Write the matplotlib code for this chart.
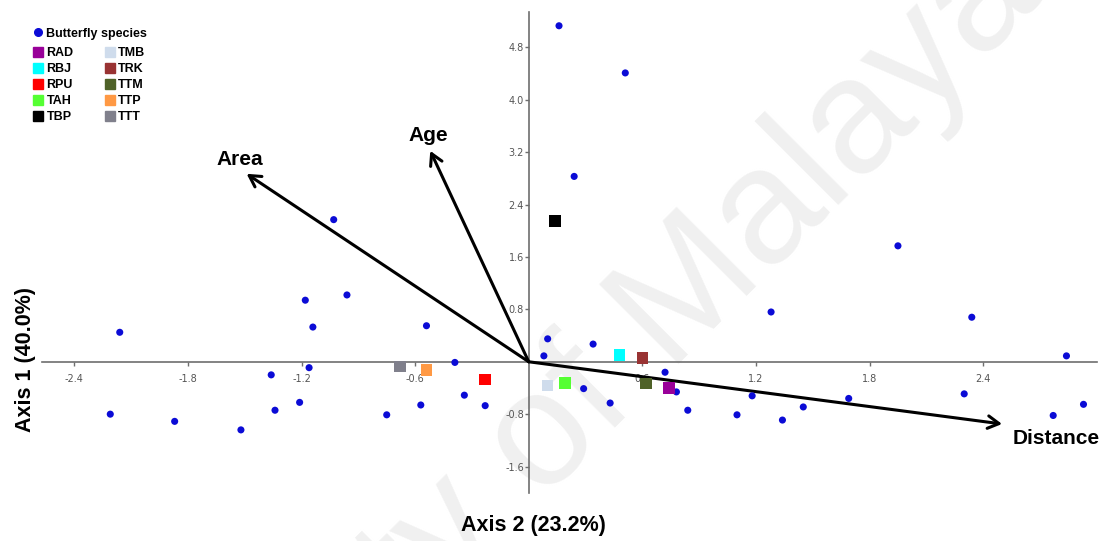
import matplotlib
matplotlib.use("Agg")
import matplotlib.pyplot as plt
from matplotlib.lines import Line2D

# butterfly species scores (axis 2 = x, axis 1 = y)
species_x = [-1.03, -0.96, -1.18, -1.14, -2.16, -1.16, -1.36, -1.21, -1.34, -2.21, -1.87, -1.52,
             -0.54, -0.39, -0.34, -0.57, -0.23, -0.75, 0.08, 0.10, 0.34, 0.29, 0.43, 0.72, 0.78,
             0.84, 1.10, 0.16, 0.51, 0.24, 1.95, 1.28, 2.34, 2.84, 1.18, 1.34, 1.45, 1.69, 2.30,
             2.77, 2.93]
species_y = [2.17, 1.02, 0.94, 0.53, 0.45, -0.09, -0.20, -0.62, -0.74, -0.80, -0.91, -1.04,
             0.55, -0.01, -0.51, -0.66, -0.67, -0.81, 0.09, 0.35, 0.27, -0.41, -0.63, -0.16, -0.46,
             -0.74, -0.81, 5.13, 4.41, 2.83, 1.77, 0.76, 0.68, 0.09, -0.52, -0.89, -0.69, -0.56, -0.49,
             -0.82, -0.65]

# sites
site_names = ["RAD", "RBJ", "RPU", "TAH", "TBP", "TMB", "TRK", "TTM", "TTP", "TTT"]
site_x = [0.74, 0.48, -0.23, 0.19, 0.14, 0.10, 0.60, 0.62, -0.54, -0.68]
site_y = [-0.40, 0.10, -0.27, -0.32, 2.15, -0.36, 0.06, -0.33, -0.13, -0.07]
site_colors = ["#990099", "#00ffff", "#ff0000", "#55ff33", "#000000",
               "#cfdcec", "#993333", "#4f6228", "#ff9944", "#80808c"]

# environmental vectors
env_names = ["Area", "Age", "Distance"]
env_x = [-1.49, -0.52, 2.50]
env_y = [2.87, 3.22, -0.95]
env_label_offsets = [(-4.8, 10.1), (-1.2, 11.3), (39.1, -10.3)]  # points

xticks = [-2.4, -1.8, -1.2, -0.6, 0.6, 1.2, 1.8, 2.4]
yticks = [-1.6, -0.8, 0.8, 1.6, 2.4, 3.2, 4.0, 4.8]

blue = "#0b0bd6"
bold_font = dict(family="Liberation Sans", weight="bold")

fig = plt.figure(figsize=(11.13, 5.41), dpi=100)
ax = fig.add_axes([0.0375, 0.0882, 0.9479, 0.8902])
ax.set_xlim(-2.572, 3.0)
ax.set_ylim(-2.008, 5.345)

# watermark
ax.text(0.0, -0.928, "University of Malaya", transform=fig.transFigure, rotation=45,
        rotation_mode="anchor", ha="left", va="baseline", fontsize=118,
        color="#f0f0f0", family="Liberation Sans", zorder=0)

for s in ["top", "right"]:
    ax.spines[s].set_visible(False)
for s in ["left", "bottom"]:
    ax.spines[s].set_position(("data", 0))
    ax.spines[s].set_color("#6e6e6e")
    ax.spines[s].set_linewidth(1.2)

ax.set_xticks(xticks)
ax.set_xticklabels([f"{v:.1f}" for v in xticks])
ax.set_yticks(yticks)
ax.set_yticklabels([f"{v:.1f}" for v in yticks])
ax.tick_params(axis="x", direction="out", length=3, width=1, colors="#6e6e6e",
               labelcolor="#555555", labelsize=7, pad=5.5)
ax.tick_params(axis="y", direction="out", length=3, width=1, colors="#6e6e6e",
               labelcolor="#555555", labelsize=7, pad=0.5)

# biplot arrows
for name, ex, ey, off in zip(env_names, env_x, env_y, env_label_offsets):
    ax.annotate("", xy=(ex, ey), xytext=(0, 0),
                arrowprops=dict(arrowstyle="->,head_length=0.8,head_width=0.45",
                                lw=2.2, color="black", shrinkA=0, shrinkB=0),
                zorder=3)
    ax.annotate(name, xy=(ex, ey), xytext=off, textcoords="offset points",
                ha="center", va="center", fontsize=15, **bold_font)

ax.scatter(species_x, species_y, s=26, color=blue, edgecolors="none", zorder=4)
ax.scatter(site_x, site_y, s=70, marker="s", c=site_colors, edgecolors="none", zorder=5)

prop = dict(family="Liberation Sans", weight="bold", size=9)
leg1 = ax.legend(handles=[Line2D([], [], ls="", marker="o", ms=5.5, color=blue)],
                 labels=["Butterfly species"], loc="upper left",
                 bbox_to_anchor=(33.9 / 1113, 1 - 27.5 / 541), bbox_transform=fig.transFigure,
                 frameon=False, borderpad=0, borderaxespad=0, handlelength=0.7,
                 handletextpad=0.25, prop=prop)
ax.add_artist(leg1)

site_handles = [Line2D([], [], ls="", marker="s", ms=7.5, color=c) for c in site_colors]
ax.legend(handles=site_handles, labels=site_names, ncol=2, loc="upper left",
          bbox_to_anchor=(33.9 / 1113, 1 - 47 / 541), bbox_transform=fig.transFigure,
          frameon=False, borderpad=0, borderaxespad=0, handlelength=0.7,
          handletextpad=0.3, labelspacing=0.33, columnspacing=2.55, prop=prop)

fig.text(533.3 / 1113, 1 - 526 / 541, "Axis 2 (23.2%)", ha="center", va="center",
         fontsize=15.5, **bold_font)
fig.text(25 / 1113, 1 - 360 / 541, "Axis 1 (40.0%)", ha="center", va="center",
         rotation=90, fontsize=15.5, **bold_font)

fig.savefig("out.png", dpi=100)
